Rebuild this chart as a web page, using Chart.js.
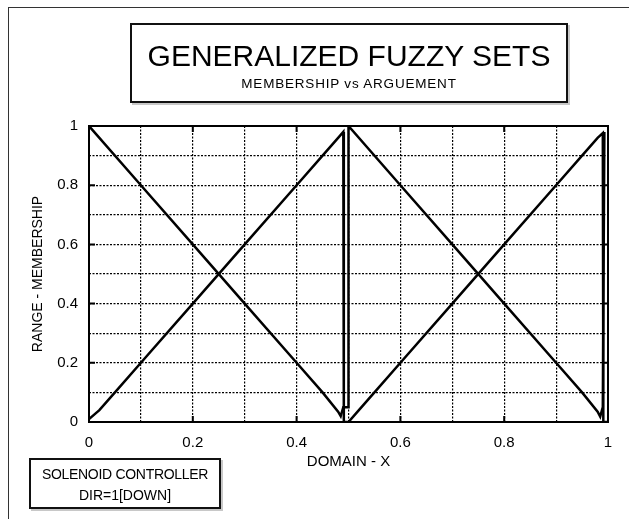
<!DOCTYPE html>
<html>
<head>
<meta charset="utf-8">
<script src="https://cdn.jsdelivr.net/npm/chart.js@4/dist/chart.umd.min.js"></script>
<style>
  html, body { margin: 0; padding: 0; background: #fff; }
  #wrap { position: relative; width: 629px; height: 519px; overflow: hidden; font-family: "Liberation Sans", Arial, sans-serif; color: #000; }
  #c { position: absolute; left: 0; top: 0; }
  #frameTop { position: absolute; left: 8px; top: 7px; width: 621px; height: 0; border-top: 1.5px solid #333; }
  #frameLeft { position: absolute; left: 8px; top: 7px; width: 0; height: 512px; border-left: 1.5px solid #333; }
  #titleBox { position: absolute; left: 130px; top: 23px; width: 434px; height: 76px; border: 2px solid #111; box-shadow: 2px 2px 0 #c8c8c8; background: #fff; text-align: center; }
  #titleMain { position: absolute; left: 0; right: 0; top: 14px; font-size: 30px; line-height: 34px; }
  #titleSub { position: absolute; left: 0; right: 0; top: 51px; font-size: 13.5px; line-height: 16px; letter-spacing: 0.8px; }
  #noteBox { position: absolute; left: 29px; top: 458px; width: 188px; height: 47px; border: 2px solid #111; box-shadow: 2px 2px 0 #c8c8c8; background: #fff; text-align: center; font-size: 14px; }
  #note1 { position: absolute; left: 0; right: 0; top: 6px; line-height: 16px; letter-spacing: -0.3px; }
  #note2 { position: absolute; left: 0; right: 0; top: 27px; line-height: 16px; }
</style>
</head>
<body>
<div id="wrap">
  <canvas id="c" width="629" height="519"></canvas>
  <div id="frameTop"></div>
  <div id="frameLeft"></div>
  <div id="titleBox">
    <div id="titleMain">GENERALIZED FUZZY SETS</div>
    <div id="titleSub">MEMBERSHIP vs ARGUEMENT</div>
  </div>
  <div id="noteBox">
    <div id="note1">SOLENOID CONTROLLER</div>
    <div id="note2">DIR=1[DOWN]</div>
  </div>
</div>
<script>
// ---- data ----
const decreasingX = [0, 0.1, 0.2, 0.3, 0.4, 0.45, 0.48, 0.485, 0.49, 0.5, 0.5, 0.6, 0.7, 0.8, 0.9, 0.95, 0.98, 0.985, 0.99, 0.993];
const decreasingY = [1, 0.8, 0.6, 0.4, 0.2, 0.1, 0.035, 0.02, 0.05, 0.05, 1, 0.8, 0.6, 0.4, 0.2, 0.1, 0.035, 0.018, 0.05, 0.98];
const increasingX = [0, 0.02, 0.05, 0.1, 0.2, 0.3, 0.4, 0.45, 0.48, 0.49, 0.491, 0.5, 0.52, 0.55, 0.6, 0.7, 0.8, 0.9, 0.95, 0.98, 0.99, 0.991, 1.0];
const increasingY = [0.01, 0.04, 0.1, 0.2, 0.4, 0.6, 0.8, 0.9, 0.96, 0.98, 0, 0, 0.04, 0.1, 0.2, 0.4, 0.6, 0.8, 0.9, 0.96, 0.976, 0, 0];
const axisMin = 0;
const axisMax = 1;
const gridStep = 0.1;
const xAxisTitle = "DOMAIN - X";
const yAxisTitle = "RANGE - MEMBERSHIP";

const toPoints = (xs, ys) => xs.map((x, i) => ({ x: x, y: ys[i] }));
const isMajor = v => Math.round(v * 10) % 2 === 0;
const fmt = v => String(Number(v.toFixed(1)));

const framePlugin = {
  id: 'frame',
  afterDraw(chart) {
    const { ctx, chartArea: a, scales } = chart;
    ctx.save();
    ctx.strokeStyle = '#000';
    ctx.lineWidth = 2;
    ctx.strokeRect(a.left, a.top, a.right - a.left, a.bottom - a.top);
    const len = 6;
    scales.x.ticks.forEach(t => {
      if (!isMajor(t.value)) return;
      const px = scales.x.getPixelForValue(t.value);
      ctx.beginPath();
      ctx.moveTo(px, a.bottom); ctx.lineTo(px, a.bottom - len);
      ctx.moveTo(px, a.top); ctx.lineTo(px, a.top + len);
      ctx.stroke();
    });
    scales.y.ticks.forEach(t => {
      if (!isMajor(t.value)) return;
      const py = scales.y.getPixelForValue(t.value);
      ctx.beginPath();
      ctx.moveTo(a.left, py); ctx.lineTo(a.left + len, py);
      ctx.moveTo(a.right, py); ctx.lineTo(a.right - len, py);
      ctx.stroke();
    });
    ctx.restore();
  }
};

const tickFont = { family: "'Liberation Sans', Arial, sans-serif", size: 15 };
const titleFont = { family: "'Liberation Sans', Arial, sans-serif", size: 14 };

new Chart(document.getElementById('c'), {
  type: 'scatter',
  data: {
    datasets: [
      { label: 'decreasing', data: toPoints(decreasingX, decreasingY), showLine: true, borderColor: '#000', borderWidth: 2.5, pointRadius: 0, tension: 0, fill: false },
      { label: 'increasing', data: toPoints(increasingX, increasingY), showLine: true, borderColor: '#000', borderWidth: 2.5, pointRadius: 0, tension: 0, fill: false }
    ]
  },
  options: {
    responsive: false,
    animation: false,
    devicePixelRatio: 1,
    layout: { padding: { left: 0, top: 126, right: 21, bottom: 0 } },
    plugins: { legend: { display: false }, tooltip: { enabled: false }, title: { display: false } },
    scales: {
      x: {
        type: 'linear', min: axisMin, max: axisMax,
        afterFit(s) { s.height = 97; },
        ticks: { stepSize: gridStep, autoSkip: false, maxRotation: 0, color: '#000', font: tickFont, padding: 12,
                 callback: v => isMajor(v) ? fmt(v) : '' },
        grid: { color: '#000', lineWidth: 1.2, drawTicks: false },
        border: { display: false, dash: [2, 1.5] },
        title: { display: true, text: xAxisTitle, color: '#000', font: { family: "'Liberation Sans', Arial, sans-serif", size: 15 }, padding: { top: 0, bottom: 48 } }
      },
      y: {
        type: 'linear', min: axisMin, max: axisMax,
        afterFit(s) { s.width = 89; },
        ticks: { stepSize: gridStep, autoSkip: false, color: '#000', font: tickFont, padding: 11,
                 callback: v => isMajor(v) ? fmt(v) : '' },
        grid: { color: '#000', lineWidth: 1.2, drawTicks: false },
        border: { display: false, dash: [2, 1.5] },
        title: { display: true, text: yAxisTitle, color: '#000', font: titleFont, padding: { top: 30, bottom: 0 } }
      }
    }
  },
  plugins: [framePlugin]
});
</script>
</body>
</html>
